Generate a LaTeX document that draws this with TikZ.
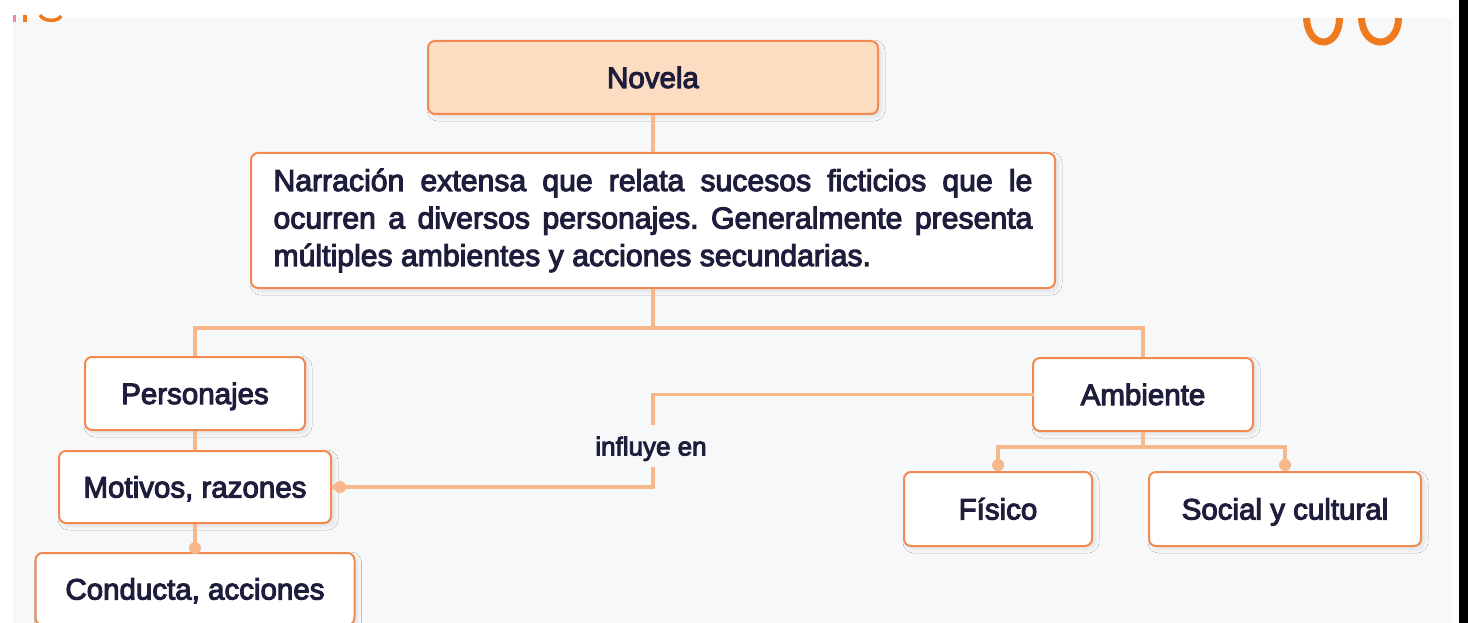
\documentclass[tikz,border=0pt]{standalone}
\usepackage{fontspec}
\setmainfont{Liberation Sans}[FakeBold=3.5]
\usetikzlibrary{shadows.blur}
\definecolor{bg}{HTML}{F7F8FA}
\definecolor{bord}{HTML}{F08A50}
\definecolor{conn}{HTML}{F8B78A}
\definecolor{peach}{HTML}{FCDDC1}
\definecolor{ink}{HTML}{1E1E3C}
\definecolor{deco}{HTML}{F07A1E}
\definecolor{decopink}{HTML}{EE8A9A}
\frenchspacing
\begin{document}
\begin{tikzpicture}[x=1pt,y=-1pt,
  boxbase/.style={draw=bord, line width=2pt, rounded corners=7pt, fill=white, text=ink,
    inner sep=0pt,
    blur shadow={shadow xshift=3pt, shadow yshift=-3pt, shadow opacity=10, shadow blur radius=4pt, shadow blur steps=6}},
  box/.style={boxbase, font=\fontsize{29.5}{36}\selectfont, text height=21pt, text depth=0pt},
  link/.style={draw=conn, line width=3.5pt},
  jdot/.style={fill=conn, circle, inner sep=0pt, minimum size=12pt},
  lbl/.style={text=ink, font=\fontsize{26}{30}\selectfont, text height=19pt, text depth=0pt, inner sep=0pt}]
\useasboundingbox (0,0) rectangle (1468,623);
\fill[white] (0,0) rectangle (1468,623);
\fill[bg] (13,18) rectangle (1452,623);
\fill[black] (1459,0) rectangle (1468,623);
% decorations
\draw[decopink, line width=3pt] (14.5,15) -- (14.5,22);
\draw[deco, line width=4pt] (24.5,15) -- (24.5,22);
\draw[deco, line width=3.5pt] (40,15) .. controls (44,22) and (58,22) .. (61,16);
\draw[deco, line width=7pt] (1306.5,18) .. controls (1308,50) and (1339,50) .. (1339.5,18);
\draw[deco, line width=7pt] (1361.5,18) .. controls (1363,50) and (1398,50) .. (1398.5,18);
% nodes
\node[box, fill=peach, minimum width=450pt, minimum height=73pt] (nov) at (653,77.5) {Novela};
\node[boxbase, minimum width=804pt, minimum height=135pt, align=left,
  font=\fontsize{30.2}{37.5}\selectfont] (desc) at (653,220.5)
  {\makebox[759pt][s]{Narración extensa que relata sucesos ficticios que le}\\
   \makebox[759pt][s]{ocurren a diversos personajes. Generalmente presenta}\\
   múltiples ambientes y acciones secundarias.};
\node[box, minimum width=220pt, minimum height=73pt] (pers) at (195,393.5) {Personajes};
\node[box, minimum width=272pt, minimum height=72pt] (mot) at (195,487) {Motivos, razones};
\node[box, minimum width=319pt, minimum height=72pt] (cond) at (195,589) {Conducta, acciones};
\node[box, minimum width=220pt, minimum height=73pt] (amb) at (1143,394.5) {Ambiente};
\node[box, minimum width=188pt, minimum height=74pt] (fis) at (998,509) {Físico};
\node[box, minimum width=272pt, minimum height=74pt] (soc) at (1285,509) {Social y cultural};
\node[lbl, minimum height=42pt] (inf) at (651,446) {influye en};
% connectors
\draw[link] (nov.south) -- (desc.north);
\draw[link] (desc.south) -- ++(0,39) coordinate (j1);
\draw[link] (j1) -| (pers.north);
\draw[link] (j1) -| (amb.north);
\draw[link] (pers.south) -- (mot.north);
\draw[link] (mot.south) -- (cond.north);
\node[jdot] at ([yshift=4pt]cond.north) {};
\draw[link] ([xshift=2pt]amb.west) -| ([xshift=2pt]inf.north);
\draw[link] ([xshift=2pt]inf.south) |- (mot.east);
\node[jdot] at ([xshift=8pt]mot.east) {};
\draw[link] (amb.south) -- ++(0,15) coordinate (j2);
\draw[link] (j2) -| (fis.north);
\draw[link] (j2) -| (soc.north);
\node[jdot] at ([yshift=6pt]fis.north) {};
\node[jdot] at ([yshift=6pt]soc.north) {};
\end{tikzpicture}
\end{document}
